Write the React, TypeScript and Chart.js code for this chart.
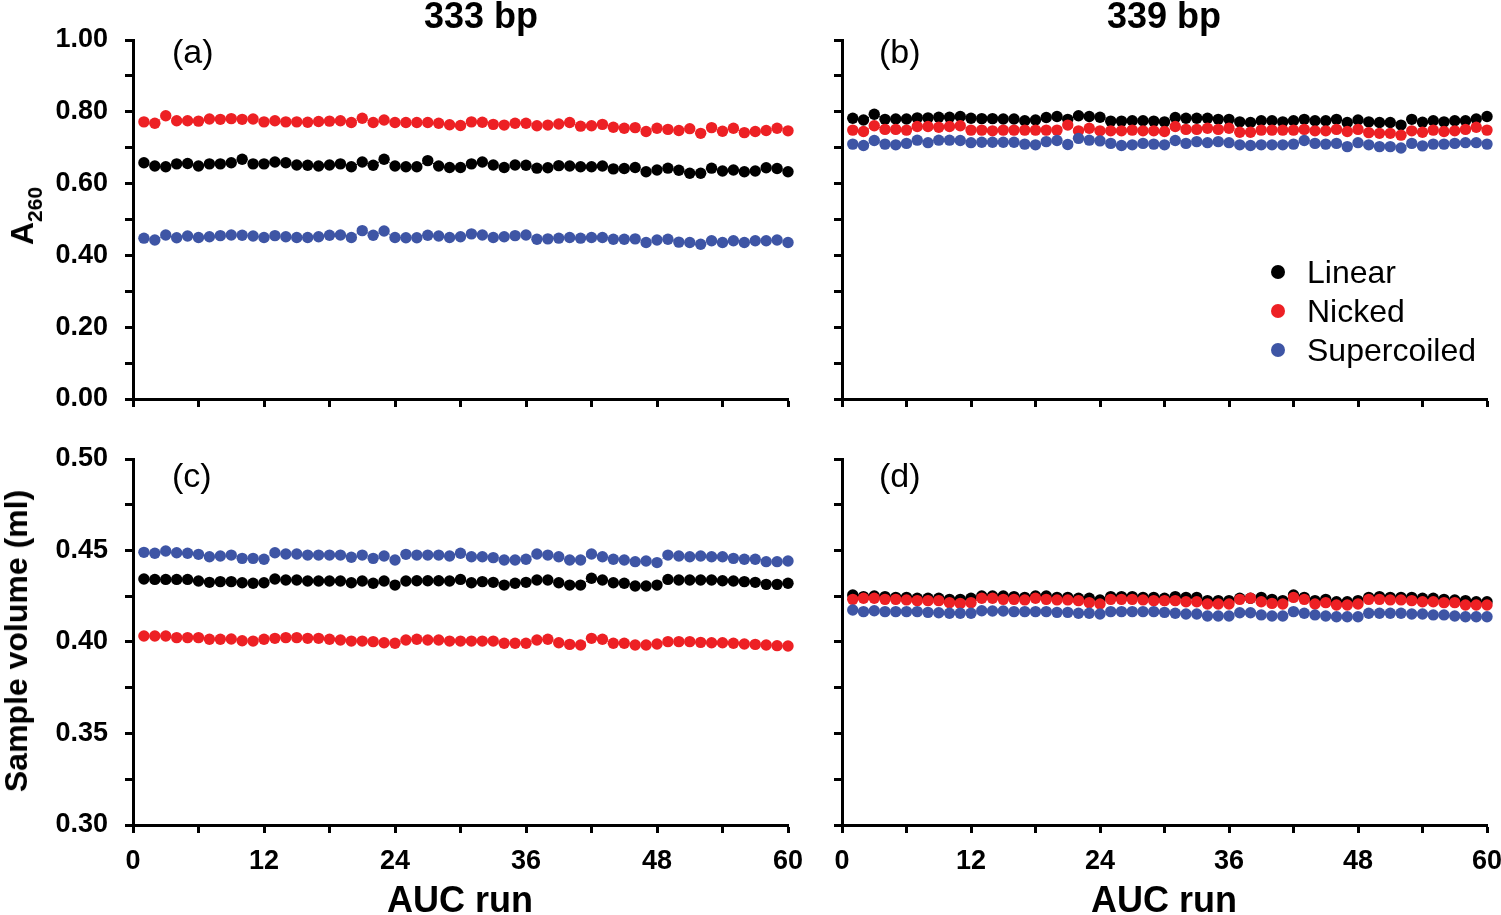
import React, { useEffect, useRef } from 'react';
import { Chart, registerables } from 'chart.js';

Chart.register(...registerables);

// ---------- data ----------
const runs = [
  1, 2, 3, 4, 5, 6, 7, 8, 9, 10, 11, 12, 13, 14, 15, 16, 17, 18, 19, 20,
  21, 22, 23, 24, 25, 26, 27, 28, 29, 30, 31, 32, 33, 34, 35, 36, 37, 38, 39, 40,
  41, 42, 43, 44, 45, 46, 47, 48, 49, 50, 51, 52, 53, 54, 55, 56, 57, 58, 59, 60,
];

const seriesNames = ['Linear', 'Nicked', 'Supercoiled'];
const seriesColors = ['#000000', '#ED2024', '#3E55A5'];

const columnTitles = ['333 bp', '339 bp'];
const panelLetters = ['(a)', '(b)', '(c)', '(d)'];
const xTitle = 'AUC run';
const yTitleBottom = 'Sample volume (ml)';

// (a) 333 bp, A260
const a333Linear = [
  0.658, 0.649, 0.647, 0.655, 0.656, 0.649, 0.655, 0.655, 0.658, 0.668, 0.655, 0.655, 0.66, 0.658, 0.652, 0.651, 0.649, 0.652, 0.655, 0.647,
  0.66, 0.651, 0.668, 0.649, 0.647, 0.647, 0.664, 0.649, 0.645, 0.645, 0.655, 0.66, 0.652, 0.645, 0.652, 0.651, 0.643, 0.644, 0.65, 0.649,
  0.647, 0.647, 0.649, 0.641, 0.642, 0.645, 0.633, 0.638, 0.643, 0.637, 0.629, 0.629, 0.643, 0.635, 0.638, 0.633, 0.635, 0.644, 0.642, 0.633,
];
const a333Nicked = [
  0.772, 0.768, 0.789, 0.775, 0.775, 0.774, 0.78, 0.779, 0.781, 0.779, 0.78, 0.772, 0.775, 0.772, 0.772, 0.771, 0.773, 0.774, 0.775, 0.77,
  0.782, 0.77, 0.777, 0.77, 0.77, 0.77, 0.77, 0.768, 0.764, 0.762, 0.772, 0.771, 0.765, 0.763, 0.768, 0.768, 0.761, 0.763, 0.766, 0.77,
  0.76, 0.761, 0.765, 0.757, 0.754, 0.756, 0.745, 0.754, 0.751, 0.748, 0.753, 0.74, 0.756, 0.746, 0.754, 0.742, 0.745, 0.748, 0.754, 0.747,
];
const a333Super = [
  0.448, 0.443, 0.457, 0.449, 0.454, 0.45, 0.452, 0.455, 0.457, 0.456, 0.454, 0.45, 0.455, 0.452, 0.45, 0.45, 0.452, 0.456, 0.457, 0.45,
  0.469, 0.456, 0.468, 0.45, 0.449, 0.449, 0.456, 0.454, 0.45, 0.452, 0.46, 0.457, 0.45, 0.452, 0.455, 0.457, 0.445, 0.446, 0.448, 0.45,
  0.448, 0.45, 0.45, 0.445, 0.445, 0.446, 0.436, 0.443, 0.445, 0.437, 0.436, 0.431, 0.441, 0.436, 0.441, 0.436, 0.441, 0.441, 0.443, 0.436,
];

// (b) 339 bp, A260
const a339Linear = [
  0.782, 0.777, 0.793, 0.779, 0.78, 0.78, 0.783, 0.783, 0.785, 0.785, 0.787, 0.782, 0.781, 0.781, 0.78, 0.78, 0.775, 0.777, 0.784, 0.787,
  0.779, 0.789, 0.787, 0.785, 0.774, 0.774, 0.775, 0.775, 0.774, 0.772, 0.784, 0.782, 0.782, 0.782, 0.779, 0.779, 0.772, 0.77, 0.775, 0.775,
  0.772, 0.775, 0.779, 0.775, 0.775, 0.779, 0.77, 0.777, 0.772, 0.77, 0.77, 0.763, 0.779, 0.771, 0.775, 0.772, 0.775, 0.775, 0.78, 0.787,
];
const a339Nicked = [
  0.749, 0.745, 0.761, 0.751, 0.751, 0.749, 0.759, 0.759, 0.757, 0.759, 0.761, 0.749, 0.749, 0.747, 0.749, 0.749, 0.749, 0.749, 0.749, 0.749,
  0.763, 0.747, 0.754, 0.747, 0.747, 0.747, 0.749, 0.747, 0.747, 0.745, 0.759, 0.751, 0.751, 0.754, 0.751, 0.754, 0.743, 0.743, 0.749, 0.749,
  0.749, 0.749, 0.751, 0.747, 0.747, 0.751, 0.745, 0.751, 0.742, 0.74, 0.74, 0.735, 0.747, 0.743, 0.749, 0.745, 0.747, 0.751, 0.757, 0.749,
];
const a339Super = [
  0.71, 0.706, 0.72, 0.71, 0.708, 0.712, 0.721, 0.714, 0.721, 0.721, 0.72, 0.714, 0.715, 0.715, 0.715, 0.715, 0.71, 0.708, 0.717, 0.72,
  0.709, 0.726, 0.721, 0.719, 0.712, 0.706, 0.708, 0.712, 0.71, 0.708, 0.72, 0.712, 0.717, 0.714, 0.717, 0.714, 0.708, 0.706, 0.708, 0.708,
  0.708, 0.71, 0.72, 0.712, 0.71, 0.712, 0.703, 0.714, 0.708, 0.703, 0.703, 0.699, 0.712, 0.705, 0.71, 0.71, 0.712, 0.714, 0.714, 0.71,
];

// (c) 333 bp, sample volume (ml)
const v333Linear = [
  0.4344, 0.4342, 0.4342, 0.4342, 0.4342, 0.4333, 0.4326, 0.433, 0.433, 0.4324, 0.4321, 0.4324, 0.4344, 0.4339, 0.4339, 0.4333, 0.4333, 0.4333, 0.4333, 0.4324,
  0.4333, 0.4321, 0.4333, 0.4311, 0.4333, 0.4335, 0.4335, 0.4335, 0.4333, 0.4342, 0.4324, 0.433, 0.4326, 0.4311, 0.4321, 0.4326, 0.4339, 0.4339, 0.4324, 0.4311,
  0.4311, 0.4348, 0.4339, 0.4324, 0.4321, 0.4306, 0.4306, 0.4311, 0.4342, 0.4339, 0.4339, 0.4339, 0.4339, 0.4335, 0.4333, 0.433, 0.4326, 0.4315, 0.4315, 0.4321,
];
const v333Nicked = [
  0.4033, 0.4033, 0.4033, 0.4024, 0.4024, 0.4024, 0.4015, 0.4015, 0.4016, 0.4007, 0.4005, 0.4015, 0.402, 0.4024, 0.4024, 0.402, 0.402, 0.4015, 0.4011, 0.4005,
  0.4005, 0.4002, 0.3996, 0.3993, 0.4011, 0.4015, 0.4011, 0.4011, 0.4005, 0.4005, 0.4005, 0.4005, 0.4005, 0.3993, 0.3993, 0.3993, 0.4011, 0.4015, 0.3996, 0.3987,
  0.3984, 0.402, 0.4015, 0.3993, 0.3993, 0.3984, 0.3984, 0.3989, 0.4002, 0.4002, 0.4002, 0.3998, 0.3996, 0.3996, 0.3993, 0.3989, 0.3987, 0.3984, 0.398, 0.3978,
];
const v333Super = [
  0.449, 0.4485, 0.4497, 0.4488, 0.4485, 0.4479, 0.4466, 0.447, 0.4475, 0.4457, 0.4457, 0.4452, 0.4488, 0.4481, 0.4481, 0.4475, 0.4475, 0.4475, 0.4475, 0.4463,
  0.4475, 0.4457, 0.447, 0.4448, 0.4479, 0.4475, 0.4475, 0.4475, 0.447, 0.4485, 0.4466, 0.4466, 0.4461, 0.4448, 0.4448, 0.4452, 0.4481, 0.4475, 0.4466, 0.4448,
  0.4448, 0.4481, 0.4466, 0.4452, 0.4448, 0.4439, 0.4443, 0.4434, 0.4475, 0.447, 0.4466, 0.447, 0.4466, 0.4466, 0.4457, 0.4452, 0.4452, 0.4439, 0.4439, 0.4443,
];

// (d) 339 bp, sample volume (ml)
const v339Linear = [
  0.4257, 0.4248, 0.4251, 0.4248, 0.4244, 0.4244, 0.4239, 0.4239, 0.4239, 0.4233, 0.4233, 0.4239, 0.4251, 0.4251, 0.4251, 0.4248, 0.4244, 0.4251, 0.4251, 0.4244,
  0.4244, 0.4239, 0.4239, 0.423, 0.4248, 0.4248, 0.4248, 0.4244, 0.4244, 0.4239, 0.4248, 0.4244, 0.4244, 0.4226, 0.4226, 0.4226, 0.4239, 0.4239, 0.4244, 0.4233,
  0.4226, 0.4257, 0.4244, 0.4226, 0.4233, 0.422, 0.422, 0.4226, 0.4244, 0.4248, 0.4244, 0.4244, 0.4244, 0.4239, 0.4239, 0.4233, 0.423, 0.4226, 0.422, 0.422,
];
const v339Nicked = [
  0.4233, 0.4239, 0.4239, 0.4233, 0.4233, 0.423, 0.4226, 0.4226, 0.4226, 0.4215, 0.4211, 0.4215, 0.4239, 0.4239, 0.4233, 0.4233, 0.423, 0.4239, 0.4233, 0.423,
  0.423, 0.4226, 0.4215, 0.4208, 0.4233, 0.4233, 0.4233, 0.423, 0.4226, 0.4226, 0.4226, 0.422, 0.422, 0.4208, 0.4208, 0.4208, 0.4233, 0.4239, 0.422, 0.4211,
  0.4208, 0.4244, 0.4233, 0.4208, 0.4215, 0.4202, 0.4202, 0.4208, 0.4233, 0.4233, 0.423, 0.423, 0.4226, 0.422, 0.422, 0.4215, 0.4215, 0.4202, 0.4202, 0.4202,
];
const v339Super = [
  0.4175, 0.4166, 0.4171, 0.4166, 0.4166, 0.4166, 0.4166, 0.4162, 0.416, 0.4157, 0.4157, 0.4157, 0.4171, 0.4169, 0.4169, 0.4166, 0.4166, 0.4166, 0.4166, 0.4162,
  0.4162, 0.4157, 0.4157, 0.4153, 0.4166, 0.4166, 0.4166, 0.4166, 0.4166, 0.4162, 0.4157, 0.4153, 0.4153, 0.4142, 0.4142, 0.4142, 0.416, 0.416, 0.4148, 0.4142,
  0.4142, 0.4166, 0.4157, 0.4148, 0.4142, 0.4138, 0.4138, 0.4138, 0.4157, 0.4157, 0.4157, 0.4157, 0.4153, 0.4153, 0.4148, 0.4148, 0.4142, 0.4138, 0.4138, 0.4138,
];

const xTickValues = [0, 12, 24, 36, 48, 60];

// ---------- layout / style ----------
const FONT = "'Liberation Sans', Arial, Helvetica, sans-serif";

type PanelSpec = {
  left: number;
  top: number;
  width: number;
  height: number;
  padTop: number;
  padRight: number;
  yWidth: number;
  xHeight: number;
  yMin: number;
  yMax: number;
  yStep: number;
  yLabelStep: number;
  showY: boolean;
  showX: boolean;
  series: number[][];
};

const panels: PanelSpec[] = [
  { left: 0, top: 0, width: 830, height: 420, padTop: 40, padRight: 42, yWidth: 133, xHeight: 21,
    yMin: 0, yMax: 1, yStep: 0.1, yLabelStep: 0.2, showY: true, showX: false, series: [a333Linear, a333Nicked, a333Super] },
  { left: 800, top: 0, width: 701, height: 420, padTop: 40, padRight: 14, yWidth: 42, xHeight: 21,
    yMin: 0, yMax: 1, yStep: 0.1, yLabelStep: 0.2, showY: false, showX: false, series: [a339Linear, a339Nicked, a339Super] },
  { left: 0, top: 420, width: 830, height: 495, padTop: 39, padRight: 42, yWidth: 133, xHeight: 90,
    yMin: 0.3, yMax: 0.5, yStep: 0.025, yLabelStep: 0.05, showY: true, showX: true, series: [v333Linear, v333Nicked, v333Super] },
  { left: 800, top: 420, width: 701, height: 495, padTop: 39, padRight: 14, yWidth: 42, xHeight: 90,
    yMin: 0.3, yMax: 0.5, yStep: 0.025, yLabelStep: 0.05, showY: false, showX: true, series: [v339Linear, v339Nicked, v339Super] },
];

function zeroPad(s: any) {
  s.paddingTop = 0;
  s.paddingBottom = 0;
  s.paddingLeft = 0;
  s.paddingRight = 0;
}

function Panel({ spec }: { spec: PanelSpec }) {
  const ref = useRef<HTMLCanvasElement | null>(null);
  useEffect(() => {
    if (!ref.current) return;
    const datasets = spec.series.map((vals, si) => ({
      label: seriesNames[si],
      data: runs.map((r, i) => ({ x: r, y: vals[i] })),
      showLine: true,
      borderColor: seriesColors[si],
      borderWidth: 1,
      borderDash: [1.5, 2.5],
      pointRadius: 5.7,
      pointBorderWidth: 0,
      pointBackgroundColor: seriesColors[si],
      pointHoverRadius: 5.7,
      clip: false as const,
      order: 3 - si,
    }));
    const labelMod = Math.round(spec.yLabelStep * 1000);
    const chart = new Chart(ref.current, {
      type: 'scatter',
      data: { datasets },
      options: {
        animation: false,
        responsive: false,
        devicePixelRatio: 1,
        events: [],
        layout: { padding: { top: spec.padTop, right: spec.padRight, left: 0, bottom: 0 } },
        plugins: { legend: { display: false }, tooltip: { enabled: false } },
        scales: {
          x: {
            type: 'linear',
            min: 0,
            max: 60,
            ticks: {
              stepSize: 6,
              autoSkip: false,
              maxRotation: 0,
              padding: 12,
              color: '#000',
              font: { family: FONT, size: 27, weight: 'bold' },
              callback: (v: any) => (spec.showX && xTickValues.includes(Number(v)) ? String(v) : ''),
            },
            grid: { display: true, drawOnChartArea: false, drawTicks: true, tickLength: 8, tickWidth: 3, tickColor: '#000', color: '#000' },
            border: { display: true, width: 3, color: '#000' },
            afterFit: (s: any) => { s.height = spec.xHeight; zeroPad(s); },
          },
          y: {
            type: 'linear',
            min: spec.yMin,
            max: spec.yMax,
            ticks: {
              stepSize: spec.yStep,
              autoSkip: false,
              padding: 17,
              color: '#000',
              font: { family: FONT, size: 27, weight: 'bold' },
              callback: (v: any) => {
                if (!spec.showY) return '';
                const n = Math.round(Number(v) * 1000);
                return n % labelMod === 0 ? Number(v).toFixed(2) : '';
              },
            },
            grid: { display: true, drawOnChartArea: false, drawTicks: true, tickLength: 8, tickWidth: 3, tickColor: '#000', color: '#000' },
            border: { display: true, width: 3, color: '#000' },
            afterFit: (s: any) => { s.width = spec.yWidth; zeroPad(s); },
          },
        },
      } as any,
    });
    return () => chart.destroy();
  }, [spec]);
  return (
    <canvas
      ref={ref}
      width={spec.width}
      height={spec.height}
      style={{ position: 'absolute', left: spec.left, top: spec.top, width: spec.width, height: spec.height }}
    />
  );
}

const centered = (cx: number, cy: number, extra: React.CSSProperties = {}): React.CSSProperties => ({
  position: 'absolute',
  left: cx,
  top: cy,
  transform: 'translate(-50%, -50%)',
  whiteSpace: 'nowrap',
  lineHeight: 1,
  fontFamily: FONT,
  color: '#000',
  ...extra,
});

export default function App() {
  const letterPos = [
    [172, 51], [879, 51], [172, 475], [879, 475],
  ];
  const legendY = [272, 311, 350];
  return (
    <div style={{ position: 'fixed', left: 0, top: 0, width: 1501, height: 915, background: '#fff', overflow: 'hidden' }}>
      {panels.map((p, i) => (
        <Panel key={i} spec={p} />
      ))}
      {/* column titles */}
      <div style={centered(481, 16, { fontSize: 36, fontWeight: 'bold' })}>{columnTitles[0]}</div>
      <div style={centered(1164, 16, { fontSize: 36, fontWeight: 'bold' })}>{columnTitles[1]}</div>
      {/* panel letters */}
      {panelLetters.map((t, i) => (
        <div key={t} style={{ position: 'absolute', left: letterPos[i][0], top: letterPos[i][1], transform: 'translateY(-50%)', fontFamily: FONT, fontSize: 34, lineHeight: 1, whiteSpace: 'nowrap' }}>{t}</div>
      ))}
      {/* y titles */}
      <div style={centered(22, 216, { fontSize: 32, fontWeight: 'bold', transform: 'translate(-50%, -50%) rotate(-90deg)' })}>
        A<span style={{ fontSize: 21, position: 'relative', top: '0.45em' }}>260</span>
      </div>
      <div style={centered(16, 641, { fontSize: 32, fontWeight: 'bold', transform: 'translate(-50%, -50%) rotate(-90deg)' })}>{yTitleBottom}</div>
      {/* x titles */}
      <div style={centered(460, 900, { fontSize: 36, fontWeight: 'bold' })}>{xTitle}</div>
      <div style={centered(1164, 900, { fontSize: 36, fontWeight: 'bold' })}>{xTitle}</div>
      {/* legend */}
      {seriesNames.map((name, i) => (
        <React.Fragment key={name}>
          <div style={{ position: 'absolute', left: 1278 - 7, top: legendY[i] - 7, width: 14, height: 14, borderRadius: 7, background: seriesColors[i] }} />
          <div style={{ position: 'absolute', left: 1307, top: legendY[i], transform: 'translateY(-50%)', fontFamily: FONT, fontSize: 32, lineHeight: 1, whiteSpace: 'nowrap' }}>{name}</div>
        </React.Fragment>
      ))}
    </div>
  );
}
